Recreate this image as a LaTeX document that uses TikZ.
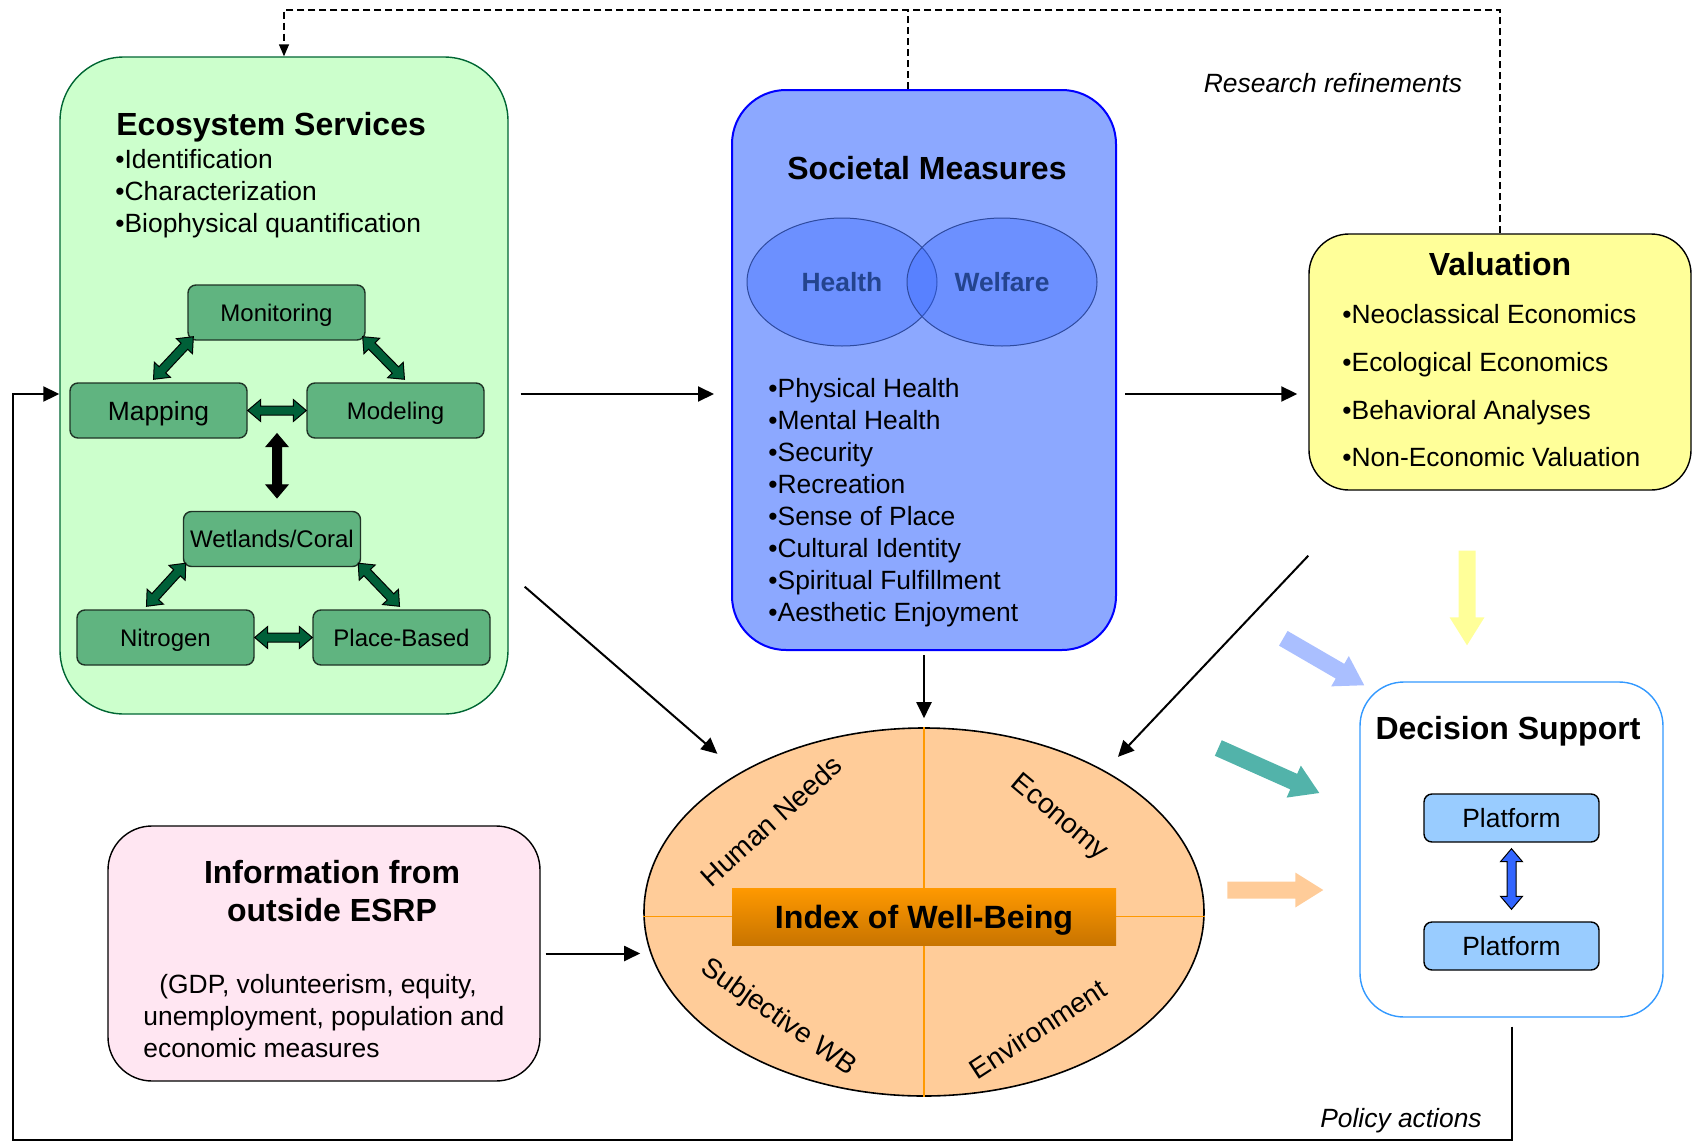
\documentclass[tikz,border=0pt]{standalone}
\usepackage{fontspec}
\setmainfont{Liberation Sans}
\usetikzlibrary{arrows.meta,calc,positioning,shapes.geometric}

\definecolor{esgreen}{HTML}{CCFFCC}
\definecolor{esborder}{HTML}{006633}
\definecolor{subgreen}{HTML}{60B480}
\definecolor{subborder}{HTML}{1F3326}
\definecolor{arrowgreen}{HTML}{006038}
\definecolor{smblue}{HTML}{8CA8FF}
\definecolor{vennfill}{HTML}{3366FF}
\definecolor{vennline}{HTML}{2E4A9E}
\definecolor{venntext}{HTML}{24448E}
\definecolor{valyellow}{HTML}{FFFF99}
\definecolor{dsblue}{HTML}{3399FF}
\definecolor{platblue}{HTML}{99CCFF}
\definecolor{platarrow}{HTML}{3366FF}
\definecolor{infopink}{HTML}{FFE6F2}
\definecolor{iwbpeach}{HTML}{FFCC99}
\definecolor{iwborange}{HTML}{FF9900}
\definecolor{iwbdark}{HTML}{C87400}
\definecolor{inblue}{HTML}{AABFFF}
\definecolor{inteal}{HTML}{52B3AA}

\newcommand{\bodysize}{\fontsize{13.2}{16}\selectfont}
\newcommand{\titlesize}{\fontsize{16}{19}\selectfont\bfseries}
\newcommand{\quadsize}{\fontsize{14}{16}\selectfont}

\newcommand{\dblarrow}[3] {
    \path[draw=black,line width=0.5pt,fill=#1]
        let \p1=(#2), \p2=(#3),
            \n1={atan2(\y2-\y1,\x2-\x1)},
            \n2={veclen(\x2-\x1,\y2-\y1)} in
        [shift={(\p1)},rotate=\n1]
        (0pt,0pt) -- (6.5pt,5.5pt) -- (6.5pt,2.25pt) -- ({\n2*1pt-6.5pt},2.25pt)
        -- ({\n2*1pt-6.5pt},5.5pt) -- ({\n2*1pt},0pt) -- ({\n2*1pt-6.5pt},-5.5pt)
        -- ({\n2*1pt-6.5pt},-2.25pt) -- (6.5pt,-2.25pt) -- (6.5pt,-5.5pt) -- cycle;
}
\newcommand{\fatarrow}[3] {
    \path[fill=#1]
        let \p1=(#2), \p2=(#3),
            \n1={atan2(\y2-\y1,\x2-\x1)},
            \n2={veclen(\x2-\x1,\y2-\y1)} in
        [shift={(\p1)},rotate=\n1]
        (0pt,4.25pt) -- ({\n2*1pt-14pt},4.25pt) -- ({\n2*1pt-14pt},8.75pt)
        -- ({\n2*1pt},0pt) -- ({\n2*1pt-14pt},-8.75pt)
        -- ({\n2*1pt-14pt},-4.25pt) -- (0pt,-4.25pt) -- cycle;
}

\tikzset{
    txt/.style={inner sep=0pt},
    bigbox/.style={draw,line width=0.7pt,rounded corners=#1},
    subbox/.style={draw=subborder,line width=0.7pt,fill=subgreen,rounded corners=4pt,
        minimum width=88.5pt,minimum height=27.5pt,text height=8.6pt,text depth=0pt,
        font=\fontsize{12}{14}\selectfont},
    platbox/.style={draw,line width=0.7pt,fill=platblue,rounded corners=4pt,
        minimum width=87.5pt,minimum height=24pt,font=\bodysize},
    venn/.style={ellipse,draw=vennline,line width=0.5pt,fill=vennfill,fill opacity=0.35,
        text opacity=1,minimum width=95pt,minimum height=64pt,inner sep=0pt,
        text=venntext,font=\bodysize\bfseries},
    conn/.style={line width=1pt,-{Triangle[length=8pt,width=7.5pt]}},
    dashline/.style={line width=0.7pt,dash pattern=on 3.5pt off 2pt},
    quadline/.style={draw=iwborange,line width=0.6pt},
}

\begin{document}
\begin{tikzpicture}[x=0.5pt,y=-0.5pt]
    \useasboundingbox (0,0) rectangle (1699,1141);

    % ecosystem services
    \node[bigbox=32pt,fill=esgreen,draw=esborder,minimum width=224pt,minimum height=328.5pt]
        (eco) at (284,385.5) {};
    \node[txt,anchor=base west,font=\titlesize] (ecotitle) at (116,135) {Ecosystem Services};
    \foreach \t [count=\i] in {Identification,Characterization,Biophysical quantification}
        \node[txt,anchor=base west,font=\bodysize] (eco\i) at (115,{136+32*\i}) {\textbullet\t};
    \node[subbox] (mon) at (276.5,312.5) {Monitoring};
    \node[subbox,text height=9.5pt,font=\bodysize] (map) at (158.5,410.5) {Mapping};
    \node[subbox] (mod) at (395.5,410.5) {Modeling};
    \node[subbox] (wet) at (272,539) {Wetlands/Coral};
    \node[subbox] (nit) at (165.5,637.5) {Nitrogen};
    \node[subbox] (pla) at (401.5,637.5) {Place-Based};
    \coordinate (mm) at ($(map.south east)!.5!(mod.south west)$);
    \dblarrow{arrowgreen}{[shift={(6,-4)}]mon.south west}{[shift={(-5,-3)}]map.north}
    \dblarrow{arrowgreen}{[shift={(-3,-4)}]mon.south east}{[shift={(9,-3)}]mod.north}
    \dblarrow{arrowgreen}{map.east}{mod.west}
    \dblarrow{black}{$(mm)+(0,-5)$}{$(mm |- wet.north)+(0,-13)$}
    \dblarrow{arrowgreen}{[shift={(3,-4)}]wet.south west}{[shift={(-19,-3)}]nit.north}
    \dblarrow{arrowgreen}{[shift={(-3,-4)}]wet.south east}{[shift={(-2,-3)}]pla.north}
    \dblarrow{arrowgreen}{nit.east}{pla.west}

    % societal measures
    \node[bigbox=27pt,fill=smblue,draw=blue,line width=1pt,minimum width=192pt,minimum height=280pt]
        (soc) at (924,370) {};
    \node[txt,font=\titlesize] (soctitle) at (927,168) {Societal Measures};
    \node[venn] (health) at (842,282) {Health};
    \node[venn] (welfare) at (1002,282) {Welfare};
    \foreach \t [count=\i] in {Physical Health,Mental Health,Security,Recreation,
        Sense of Place,Cultural Identity,Spiritual Fulfillment,Aesthetic Enjoyment}
        \node[txt,anchor=base west,font=\bodysize] (soc\i) at (768,{365+32*\i}) {\textbullet\t};

    % valuation
    \node[bigbox=20pt,fill=valyellow,draw=black,minimum width=191pt,minimum height=128pt]
        (val) at (1500,362) {};
    \node[txt,font=\titlesize] (valtitle) at (1500,264) {Valuation};
    \foreach \t [count=\i] in {Neoclassical Economics,Ecological Economics,
        Behavioral Analyses,Non-Economic Valuation}
        \node[txt,anchor=base west,font=\bodysize] (val\i) at (1342,{276+47.7*\i}) {\textbullet\t};

    % decision support
    \node[bigbox=22pt,fill=white,draw=dsblue,minimum width=151.5pt,minimum height=167.5pt]
        (ds) at (1511.5,849.5) {};
    \node[txt,anchor=base,font=\titlesize] (dstitle) at (1508,739.5) {Decision Support};
    \node[platbox] (plat1) at (1511.5,818) {Platform};
    \node[platbox] (plat2) at (1511.5,946) {Platform};
    \dblarrow{platarrow}{[yshift=-3pt]plat1.south}{[yshift=6pt]plat2.north}

    % outside information
    \node[bigbox=22pt,fill=infopink,draw=black,minimum width=216pt,minimum height=127.5pt]
        (info) at (324,953.5) {};
    \node[txt,font=\titlesize] (infotitle1) at (332,872) {Information from};
    \node[txt,font=\titlesize] (infotitle2) at (332,910) {outside ESRP};
    \node[txt,anchor=base west,font=\bodysize] (infotext1) at (159,993.5) {(GDP, volunteerism, equity,};
    \node[txt,anchor=base west,font=\bodysize] (infotext2) at (143,1025.5) {unemployment, population and};
    \node[txt,anchor=base west,font=\bodysize] (infotext3) at (143,1057.5) {economic measures};

    % index of well-being
    \node[ellipse,draw=black,line width=0.8pt,fill=iwbpeach,minimum width=280pt,minimum height=184pt]
        (idx) at (924,912) {};
    \coordinate (mid) at (0,916.5);
    \draw[quadline] (idx.north) -- (idx.south);
    \draw[quadline] (idx.west |- mid) -- (idx.east |- mid);
    \node[top color=iwborange,bottom color=iwbdark,minimum width=192pt,minimum height=28.5pt,
        inner sep=0pt,text height=11.6pt,text depth=0pt,font=\fontsize{16.1}{19}\selectfont\bfseries]
        (iwb) at (idx.center |- mid) {Index of Well-Being};
    \node[txt,rotate=42,font=\quadsize] (hn) at (771,821) {Human Needs};
    \node[txt,rotate=-40,font=\quadsize] (econ) at (1059,818) {Economy};
    \node[txt,rotate=-35,font=\quadsize] (swb) at (778,1018) {Subjective WB};
    \node[txt,rotate=33,font=\quadsize] (env) at (1038,1029) {Environment};

    % connectors
    \coordinate (row) at (0,394);
    \coordinate (top) at (0,10);
    \coordinate (fb) at (13,1139.5);
    \coordinate (socup) at ([xshift=-8pt]soc.north);
    \draw[conn,shorten <=6pt,shorten >=8.5pt] (eco.east |- row) -- (soc.west |- row);
    \draw[conn,shorten <=4pt,shorten >=5.5pt] (soc.east |- row) -- (val.west |- row);
    \draw[conn,shorten <=2pt,shorten >=4.5pt] (soc.south) -- (idx.north);
    \draw[conn,shorten >=14.5pt] ([shift={(16,-128)}]eco.south east) -- (idx.143);
    \draw[conn,shorten >=9.5pt] ([shift={(0,65)}]val.south west) -- (idx.38.6);
    \draw[conn,shorten <=2.5pt,shorten >=1.5pt] (info.east) -- (idx.west |- info.east);
    \draw[conn,shorten <=4.5pt] (ds.south) -- (ds.south |- fb) -- (fb) -- (fb |- row) -- (eco.west |- row);
    \draw[dashline,-{Triangle[length=6pt,width=5pt]}] (val.north) -- (val.north |- top)
        -- (eco.north |- top) -- (eco.north);
    \draw[dashline] (socup) -- (socup |- top);
    \node[txt,font=\bodysize\itshape] (research) at (1333,83) {Research refinements};
    \node[txt,anchor=base,font=\bodysize\itshape] (policy) at (1401,1127) {Policy actions};

    % inputs to decision support
    \coordinate (ya) at ([shift={(-33,60)}]val.south);
    \coordinate (yb) at ([shift={(-44.5,-36)}]ds.north);
    \coordinate (ba) at ([shift={(-76,-43)}]ds.north west);
    \coordinate (bb) at ([shift={(5,4)}]ds.north west);
    \coordinate (ta) at ([shift={(-141,-101.5)}]ds.west);
    \coordinate (tb) at ([shift={(-40,-56.5)}]ds.west);
    \coordinate (pa) at ([shift={(-132,40.5)}]ds.west);
    \coordinate (pb) at ([shift={(-36,40.5)}]ds.west);
    \fatarrow{valyellow}{ya}{yb}
    \fatarrow{inblue}{ba}{bb}
    \fatarrow{inteal}{ta}{tb}
    \fatarrow{iwbpeach}{pa}{pb}
\end{tikzpicture}
\end{document}
